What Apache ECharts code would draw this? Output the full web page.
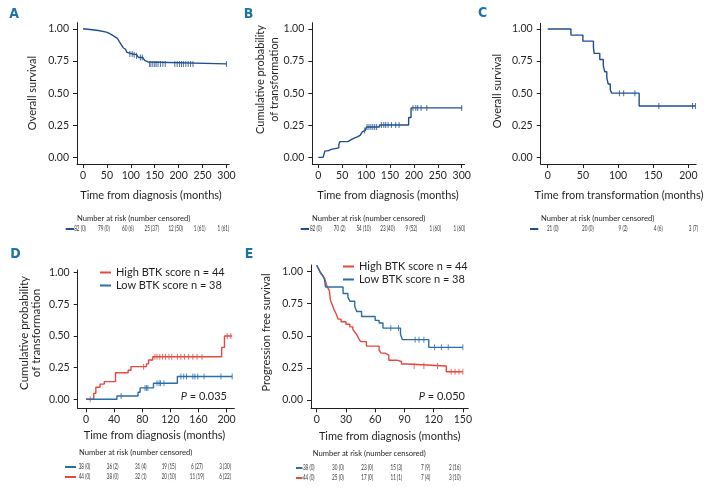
<!DOCTYPE html>
<html><head><meta charset="utf-8">
<script src="https://cdn.jsdelivr.net/npm/echarts@6/dist/echarts.min.js"></script>
<style>html,body{margin:0;padding:0;background:#fff}#c{width:708px;height:496px}</style>
</head><body><div id="c"></div>
<script>
// ---------------- DATA ----------------
// Panel A: overall survival vs time from diagnosis
const A_curve = [[0,1],[6,0.988],[32,0.976],[49,0.963],[56,0.951],[62,0.939],[67,0.927],[72,0.915],[76,0.902],[78,0.89],[80,0.878],[82,0.866],[84,0.854],[86,0.842],[89,0.83],[92,0.818],[96,0.805],[104,0.8],[112,0.79],[116,0.778],[125,0.766],[129,0.755],[133,0.743],[136,0.728],[301,0.728]];
const A_censor = [98,103,107,112,120,124,139,142,146,150,153,157,162,167,172,192,197,202,206,210,215,220,225,230,300];
const A_ticks = [0,50,100,150,200,250,300];
const A_risk = ["82 (0)","79 (0)","60 (6)","25 (37)","12 (50)","1 (61)","1 (61)"];

// Panel B: cumulative probability of transformation
const B_curve = [[0,0],[10,0.012],[12,0.025],[14,0.05],[20,0.062],[27,0.074],[43,0.099],[45,0.122],[62,0.136],[68,0.149],[75,0.161],[83,0.173],[88,0.186],[92,0.198],[95,0.21],[98,0.223],[101,0.236],[128,0.252],[189,0.31],[194,0.385],[301,0.385]];
const B_censor = [97,102,106,110,114,118,122,132,137,141,146,153,162,169,198,204,208,215,227,300];
const B_ticks = [0,50,100,150,200,250,300];
const B_risk = ["82 (0)","70 (2)","54 (10)","23 (40)","9 (52)","1 (60)","1 (60)"];

// Panel C: overall survival vs time from transformation
const C_curve = [[0,1],[33,0.952],[50,0.905],[65,0.857],[66,0.81],[74,0.762],[79,0.714],[81,0.667],[84,0.619],[86,0.571],[89,0.524],[91,0.5],[130,0.4],[210,0.4]];
const C_censor = [102,108,124,158,206,210];
const C_ticks = [0,50,100,150,200];
const C_risk = ["21 (0)","20 (0)","9 (2)","4 (6)","3 (7)"];

// Panel D: cumulative probability of transformation by BTK score
const D_high = [[0,0],[11,0.047],[14,0.095],[20,0.12],[26,0.14],[42,0.21],[60,0.23],[64,0.258],[86,0.28],[89,0.31],[95,0.336],[193,0.41],[197,0.5],[208,0.5]];
const D_highCensor = [6,82,98,101,105,109,113,118,122,130,135,140,146,152,158,165,201,206];
const D_low = [[0,0],[44,0.026],[74,0.056],[77,0.09],[96,0.127],[130,0.18],[208,0.18]];
const D_lowCensor = [50,84,86,88,101,104,106,111,135,139,143,152,155,159,168,192,208];
const D_ticks = [0,40,80,120,160,200];
const D_riskLow = ["38 (0)","36 (2)","31 (4)","19 (15)","6 (27)","3 (30)"];
const D_riskHigh = ["44 (0)","38 (0)","32 (1)","20 (10)","11 (19)","6 (22)"];

// Panel E: progression free survival by BTK score
const E_high = [[0,1.05],[2,1.02],[4,0.99],[6,0.97],[8,0.95],[10,0.9],[11,0.88],[13,0.85],[14,0.78],[16,0.74],[18,0.7],[20,0.67],[22,0.63],[25,0.61],[30,0.59],[34,0.57],[37,0.55],[39,0.53],[41,0.51],[43,0.48],[45,0.455],[51,0.42],[64,0.39],[66,0.365],[70,0.35],[74,0.31],[82,0.3],[87,0.28],[93,0.265],[133,0.22],[150,0.22]];
const E_highCensor = [100,110,124,138,142,146,150];
const E_low = [[0,1.05],[2,1.02],[4,0.99],[6,0.97],[8,0.94],[9,0.88],[27,0.83],[32,0.8],[34,0.77],[39,0.73],[41,0.69],[46,0.65],[60,0.62],[64,0.6],[68,0.56],[86,0.51],[88,0.47],[115,0.41],[150,0.41]];
const E_lowCensor = [76,84,101,105,110,121,128,135,150];
const E_ticks = [0,30,60,90,120,150];
const E_riskLow = ["38 (0)","30 (0)","23 (0)","15 (3)","7 (9)","2 (16)"];
const E_riskHigh = ["44 (0)","25 (0)","17 (0)","11 (1)","7 (4)","3 (10)"];

const Y_ticks = [0,0.25,0.5,0.75,1];
const HIGH_NAME = "High BTK score n = 44";
const LOW_NAME = "Low BTK score n = 38";

// ---------------- STYLE / LAYOUT ----------------
const FONT = 'Lato, "Open Sans", sans-serif';
const NAVY = '#1f4f8f';
const BLUE = '#2a6ea6';
const RED = '#e5483f';
const INK = '#231f20';
const LETTER = '#1b73a7';

const grids = [
  {left:77, top:22.7, width:152.3, height:141.3, xmin:-12.5, xmax:306, ymin:-0.052, ymax:1.049, ticks:A_ticks},
  {left:312.3, top:22.7, width:152.3, height:141.3, xmin:-12.5, xmax:306, ymin:-0.052, ymax:1.049, ticks:B_ticks},
  {left:540.7, top:23.3, width:155.4, height:140.7, xmin:-10, xmax:211, ymin:-0.052, ymax:1.044, ticks:C_ticks},
  {left:77.7, top:270, width:156.6, height:138.3, xmin:-11.8, xmax:211, ymin:-0.071, ymax:1.021, ticks:D_ticks},
  {left:311, top:265, width:157.3, height:143.3, xmin:-5.9, xmax:155.6, ymin:-0.065, ymax:1.052, ticks:E_ticks}
];

function stepValue(curve, t) {
  let v = curve[0][1];
  for (const p of curve) { if (p[0] <= t) v = p[1]; else break; }
  return v;
}

function km(g, curve, censor, color, name) {
  return [
    {type:'line', name:name, xAxisIndex:g, yAxisIndex:g, data:curve, step:'end',
     symbol:'none', showSymbol:false, silent:true, clip:false,
     lineStyle:{color:color, width:1.4}, itemStyle:{color:color}},
    {type:'scatter', xAxisIndex:g, yAxisIndex:g, silent:true, clip:false,
     data:censor.map(t => [t, stepValue(curve, t)]),
     symbol:'rect', symbolSize:[1,6], itemStyle:{color:color}}
  ];
}

const axisCommon = {
  axisLine:{show:true, onZero:false, lineStyle:{color:INK, width:1}},
  splitLine:{show:false}
};

const option = {
  animation:false,
  backgroundColor:'#fff',
  grid: grids.map(g => ({left:g.left, top:g.top, width:g.width, height:g.height, containLabel:false})),
  xAxis: grids.map((g,i) => Object.assign({}, axisCommon, {
    gridIndex:i, type:'value', min:g.xmin, max:g.xmax,
    axisTick:{show:true, length:4, customValues:g.ticks, lineStyle:{color:INK}},
    axisLabel:{customValues:g.ticks, fontSize:10.5, color:INK, margin:6, fontFamily:FONT}
  })),
  yAxis: grids.map((g,i) => Object.assign({}, axisCommon, {
    gridIndex:i, type:'value', min:g.ymin, max:g.ymax,
    axisTick:{show:true, length:4, customValues:Y_ticks, lineStyle:{color:INK}},
    axisLabel:{customValues:Y_ticks, fontSize:10.5, color:INK, margin:8, fontFamily:FONT,
      formatter: v => v.toFixed(2)}
  })),
  legend: [
    {data:[HIGH_NAME, LOW_NAME], left:95, top:262, orient:'vertical', icon:'rect',
     itemWidth:11, itemHeight:2, itemGap:2, selectedMode:false,
     textStyle:{fontSize:11, color:INK, fontFamily:FONT}},
    {data:[HIGH_NAME, LOW_NAME], left:338, top:256, orient:'vertical', icon:'rect',
     itemWidth:11, itemHeight:2, itemGap:2, selectedMode:false,
     textStyle:{fontSize:11, color:INK, fontFamily:FONT}}
  ],
  series: [].concat(
    km(0, A_curve, A_censor, NAVY, 'A'),
    km(1, B_curve, B_censor, NAVY, 'B'),
    km(2, C_curve, C_censor, NAVY, 'C'),
    km(3, D_high, D_highCensor, RED, HIGH_NAME),
    km(3, D_low, D_lowCensor, BLUE, LOW_NAME),
    km(4, E_high, E_highCensor, RED, HIGH_NAME),
    km(4, E_low, E_lowCensor, BLUE, LOW_NAME)
  )
};

const chart = echarts.init(document.getElementById('c'), null, {renderer:'canvas'});
chart.setOption(option);

// ---------------- ANNOTATIONS ----------------
const gfx = [];
function text(x, y, str, size, opts) {
  opts = opts || {};
  gfx.push({type:'text', x:x, y:y, rotation:opts.rot || 0, scaleX:opts.sx || 1, silent:true,
    style:Object.assign({text:str, fontSize:size, fill:opts.fill || INK, fontFamily:opts.font || FONT,
      fontWeight:opts.weight || 'normal', align:opts.align || 'center', verticalAlign:'middle',
      lineHeight:opts.lh || size + 2}, opts.rich ? {rich:opts.rich} : {})});
}
function dash(x1, x2, y, color) {
  gfx.push({type:'line', silent:true, shape:{x1:x1, y1:y, x2:x2, y2:y}, style:{stroke:color, lineWidth:2}});
}
function riskRow(g, ticks, labels, y, offset) {
  ticks.forEach((t, i) => {
    const p = chart.convertToPixel({gridIndex:g}, [t, 0]);
    text(p[0] + offset, y, labels[i], 7, {sx:0.66, fill:'#333'});
  });
}

// panel letters
const LF = '"DejaVu Sans Condensed", "Liberation Sans Narrow", sans-serif';
text(14, 14, 'A', 14, {weight:'bold', fill:LETTER, font:LF});
text(248.5, 14, 'B', 14, {weight:'bold', fill:LETTER, font:LF});
text(482.5, 13, 'C', 14, {weight:'bold', fill:LETTER, font:LF});
text(15.5, 254.5, 'D', 14, {weight:'bold', fill:LETTER, font:LF});
text(249, 254.5, 'E', 14, {weight:'bold', fill:LETTER, font:LF});

// y titles
const ROT = Math.PI / 2;
text(32.5, 93, 'Overall survival', 11, {rot:ROT});
text(267.5, 79.5, 'Cumulative probability\nof transformation', 11, {rot:ROT, lh:13.5});
text(497.5, 91, 'Overall survival', 11, {rot:ROT});
text(30, 333, 'Cumulative probability\nof transformation', 11.5, {rot:ROT, lh:12});
text(266, 332.5, 'Progression free survival', 11, {rot:ROT});

// x titles
text(151, 195, 'Time from diagnosis (months)', 11);
text(388, 195, 'Time from diagnosis (months)', 11);
text(619, 195, 'Time from transformation (months)', 11);
text(154.5, 435, 'Time from diagnosis (months)', 11);
text(389.7, 436.7, 'Time from diagnosis (months)', 11);

// P values
const pRich = {i:{fontStyle:'italic', fontSize:11, fontFamily:FONT, fill:INK}, n:{fontSize:11, fontFamily:FONT, fill:INK}};
text(227, 396.7, '{i|P}{n| = 0.035}', 11, {align:'right', rich:pRich});
text(465, 396.7, '{i|P}{n| = 0.050}', 11, {align:'right', rich:pRich});

// number at risk tables
const HDR = 'Number at risk (number censored)';
text(77, 218.3, HDR, 7.6, {align:'left'});
text(312, 218.3, HDR, 7.6, {align:'left'});
text(541, 218.3, HDR, 7.6, {align:'left'});
text(79, 452.7, HDR, 7.6, {align:'left'});
text(312.7, 453.3, HDR, 7.6, {align:'left'});

dash(65.7, 74, 229, NAVY);   riskRow(0, A_ticks, A_risk, 229, -3);
dash(300.7, 309, 229, NAVY); riskRow(1, B_ticks, B_risk, 229, -2.5);
dash(530, 538.3, 229, NAVY); riskRow(2, C_ticks, C_risk, 229, 5);
dash(65, 76, 467, BLUE);     riskRow(3, D_ticks, D_riskLow, 467, -1.5);
dash(65, 76, 477, RED);      riskRow(3, D_ticks, D_riskHigh, 477, -1.5);
dash(296, 302.5, 468, BLUE); riskRow(4, E_ticks, E_riskLow, 468, -8);
dash(296, 302.5, 478, RED);  riskRow(4, E_ticks, E_riskHigh, 478, -8);

chart.setOption({graphic:{elements:gfx}});
</script>
</body></html>
